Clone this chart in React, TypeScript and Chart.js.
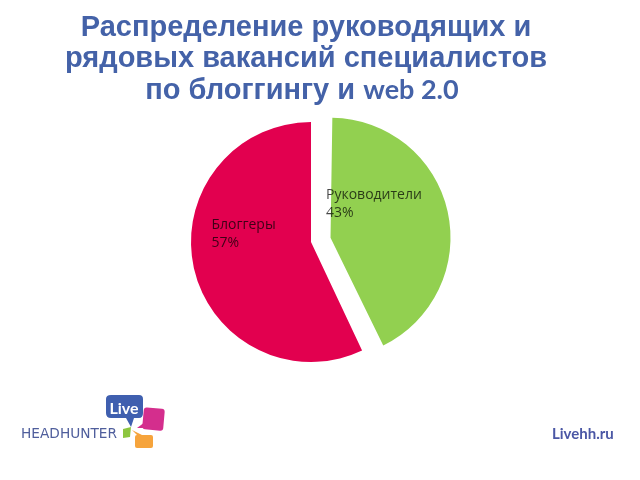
import React, { useEffect, useRef } from "react";
import { Chart, registerables } from "chart.js";

Chart.register(...registerables);

const categories = ["Руководители", "Блоггеры"];
const shares = [43, 57];
const sliceColors = ["#92D050", "#E2004F"];
// Chart.js moves an arc by offset / 4 pixels
const explodeOffsets = [80, 0];
const titleLines = ["Распределение руководящих и", "рядовых вакансий специалистов", "по блоггингу и "];
const titleTail = "web 2.0";
const siteLabel = "Livehh.ru";
const logoWord = "HEADHUNTER";
const logoBubble = "Live";

// label anchor (left edge, first baseline) as fractions of the radius from the pie centre
const labelAnchors = [
  [0.125, -0.36],
  [-0.83, -0.11],
];

// keep the exploded slice at the same radius as the others
const keepRadiusPlugin = {
  id: "keepRadius",
  beforeDatasetsDraw(chart: any) {
    const meta = chart.getDatasetMeta(0);
    const baseRadius = meta.controller.outerRadius;
    meta.data.forEach((arc: any) => {
      const off = (arc.options.offset || 0) / 4;
      const circ = arc.endAngle - arc.startAngle;
      const fix = 1 - Math.sin(Math.min(Math.PI, circ));
      arc.outerRadius = baseRadius - off * fix;
    });
  },
};

const sliceLabelPlugin = {
  id: "sliceLabels",
  afterDatasetsDraw(chart: any) {
    const ctx = chart.ctx;
    const meta = chart.getDatasetMeta(0);
    const r = meta.controller.outerRadius;
    ctx.save();
    ctx.font = "14px 'Open Sans'";
    ctx.textAlign = "left";
    ctx.textBaseline = "alphabetic";
    ctx.fillStyle = "rgba(0,0,0,0.72)";
    meta.data.forEach((arc: any, i: number) => {
      const { x, y } = arc.getProps(["x", "y"], true);
      const [fx, fy] = labelAnchors[i];
      const lx = x + fx * r;
      const ly = y + fy * r;
      ctx.fillText(categories[i], lx, ly);
      ctx.fillText(shares[i] + "%", lx, ly + 18);
    });
    ctx.restore();
  },
};

export default function App() {
  const canvasRef = useRef<HTMLCanvasElement | null>(null);

  useEffect(() => {
    if (!canvasRef.current) return;
    const chart = new Chart(canvasRef.current, {
      type: "pie",
      data: {
        labels: categories,
        datasets: [
          {
            data: shares,
            backgroundColor: sliceColors,
            borderWidth: 0,
            offset: explodeOffsets,
          },
        ],
      },
      options: {
        responsive: false,
        animation: false,
        radius: 120,
        layout: { padding: { left: 171, right: 189, top: 102, bottom: 98 } },
        plugins: {
          legend: { display: false },
          tooltip: { enabled: false },
          title: { display: false },
        },
      } as any,
      plugins: [keepRadiusPlugin, sliceLabelPlugin],
    });
    return () => chart.destroy();
  }, []);

  return (
    <div
      style={{
        position: "fixed",
        left: 0,
        top: 0,
        width: 640,
        height: 480,
        background: "#ffffff",
        overflow: "hidden",
      }}
    >
      <canvas
        ref={canvasRef}
        width={640}
        height={480}
        style={{ position: "absolute", left: 0, top: 0, width: 640, height: 480 }}
      />
      <svg
        width={640}
        height={480}
        style={{ position: "absolute", left: 0, top: 0 }}
        xmlns="http://www.w3.org/2000/svg"
      >
        <g fill="#4462A8" fontFamily="'Liberation Sans', Arial, sans-serif" fontWeight="bold" fontSize="29" textAnchor="middle">
          <text x={306} y={36}>{titleLines[0]}</text>
          <text x={306} y={67}>{titleLines[1]}</text>
          <text x={302} y={99}>
            {titleLines[2]}
            <tspan fontFamily="Lato, 'Open Sans', sans-serif" fontWeight="bold" fontSize="27">{titleTail}</tspan>
          </text>
        </g>

        {/* logo */}
        <text
          x={21}
          y={438}
          fill="#4F5E9C"
          fontFamily="'DejaVu Sans', sans-serif"
          fontSize="14"
          textLength={96}
          lengthAdjust="spacingAndGlyphs"
        >
          {logoWord}
        </text>
        <path
          d="M111 395 H139 Q143 395 143 399 V413 Q143 418 139 418 H134 L131 427 L126 418 H111 Q106 418 106 413 V399 Q106 395 111 395 Z"
          fill="#3F5FAF"
        />
        <text x={124} y={414} fill="#ffffff" fontFamily="Lato, 'Open Sans', sans-serif" fontWeight="bold" fontSize="16" textAnchor="middle">
          {logoBubble}
        </text>
        <rect x={143} y={408} width={21} height={22} rx={3} fill="#D42E8D" transform="rotate(5 153 419)" />
        <path d="M145 422 L137 428 L147 428 Z" fill="#D42E8D" />
        <path d="M123 429 L131 427 L130 437 L123 438 Z" fill="#8DC63F" />
        <rect x={135} y={435} width={18} height={13} rx={2} fill="#F6A43C" />
        <path d="M137 435 L132 430 L142 435 Z" fill="#F6A43C" />

        <text x={552} y={439} fill="#4B57A5" fontFamily="Lato, 'Open Sans', sans-serif" fontWeight="bold" fontSize="15">
          {siteLabel}
        </text>
      </svg>
    </div>
  );
}
